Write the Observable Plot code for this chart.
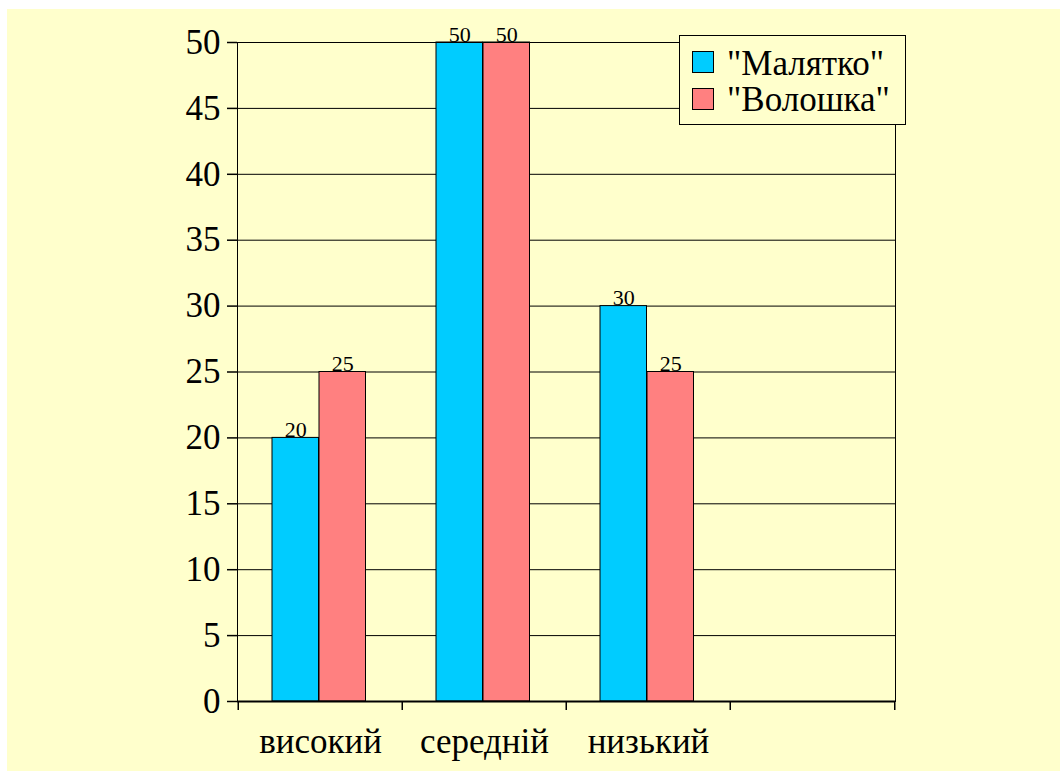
<!DOCTYPE html>
<html>
<head>
<meta charset="utf-8">
<script src="https://cdn.jsdelivr.net/npm/d3@7"></script>
<script src="https://cdn.jsdelivr.net/npm/@observablehq/plot@0.6"></script>
</head>
<body style="margin:0">
<div id="bg" style="position:absolute; left:7px; top:9px; width:1053px; height:762px; background:#FFFFCC;"></div>
<div id="legend" style="position:absolute; left:679px; top:35px; width:227px; height:90px; box-sizing:border-box; border:1px solid #000; background:#FFFFCC; font-family:'Liberation Serif'; font-size:35px; line-height:35px; color:#000;">
  <div class="sw" style="position:absolute; left:12px; top:15px; width:22px; height:22px; box-sizing:border-box; border:1px solid #000; background:#00CCFF;"></div>
  <div class="lb" style="position:absolute; left:47px; top:10px; white-space:nowrap; font-family:'Liberation Serif';">"Малятко"</div>
  <div class="sw" style="position:absolute; left:12px; top:52px; width:22px; height:22px; box-sizing:border-box; border:1px solid #000; background:#FF8080;"></div>
  <div class="lb" style="position:absolute; left:47px; top:46px; white-space:nowrap; font-family:'Liberation Serif';">"Волошка"</div>
</div>
<script>
// ---- data ----
const categories = ["високий", "середній", "низький"];
const seriesNames = ['"Малятко"', '"Волошка"'];
const malyatko = [20, 50, 30];
const voloshka = [25, 50, 25];
const yTicks = [0, 5, 10, 15, 20, 25, 30, 35, 40, 45, 50];
const colors = ["#00CCFF", "#FF8080"];

// empty fourth slot on the category axis
const xDomain = [...categories, " "];
const rowsA = categories.map((c, i) => ({cat: c, series: seriesNames[0], v: malyatko[i]}));
const rowsB = categories.map((c, i) => ({cat: c, series: seriesNames[1], v: voloshka[i]}));

const font = "Liberation Serif";

const chart = Plot.plot({
  width: 1053,
  height: 762,
  marginLeft: 230,
  marginRight: 165,
  marginTop: 33,
  marginBottom: 70,
  style: {background: "transparent", fontFamily: font, color: "#000", overflow: "visible"},
  x: {domain: xDomain, padding: 0, label: null, axis: null},
  y: {domain: [0, 50], label: null, axis: null},
  marks: [
    Plot.ruleY(yTicks, {stroke: "#000", strokeWidth: 1}),
    Plot.barY(rowsA, {x: "cat", y: "v", fill: colors[0], stroke: "#000", strokeWidth: 1, insetLeft: 34, insetRight: 83.5}),
    Plot.barY(rowsB, {x: "cat", y: "v", fill: colors[1], stroke: "#000", strokeWidth: 1, insetLeft: 81, insetRight: 36.5}),
    Plot.text(rowsA, {x: "cat", y: "v", text: d => String(d.v), dx: -24.75, dy: -1, lineAnchor: "bottom", fontSize: 22, fontFamily: font, fill: "#000"}),
    Plot.text(rowsB, {x: "cat", y: "v", text: d => String(d.v), dx: 22.25, dy: -1, lineAnchor: "bottom", fontSize: 22, fontFamily: font, fill: "#000"}),
    Plot.frame({stroke: "#000", strokeWidth: 1}),
    Plot.ruleY([0], {stroke: "#000", strokeWidth: 2}),
    Plot.axisY(yTicks, {tickSize: 10, tickPadding: 7, fontSize: 35, fontFamily: font, label: null, stroke: "#000", fill: "#000", strokeWidth: 1.5}),
    Plot.axisX(categories, {tickSize: 0, tickPadding: 27, fontSize: 35, fontFamily: font, label: null, fill: "#000"}),
    Plot.ruleX(xDomain, {x: d => d, y1: 0, y2: 0, dx: -82.25, insetBottom: -9, stroke: "#000", strokeWidth: 1.5}),
    Plot.ruleX([xDomain[xDomain.length - 1]], {x: d => d, y1: 0, y2: 0, dx: 82.25, insetBottom: -9, stroke: "#000", strokeWidth: 1.5})
  ]
});
document.getElementById("bg").appendChild(chart);
</script>
</body>
</html>
